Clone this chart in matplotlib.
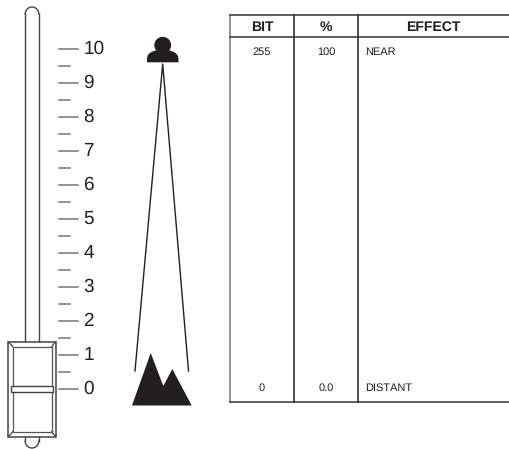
#!/usr/bin/env python3
"""Fader scale, depth sketch and DMX effect table."""
import numpy as np
import matplotlib
matplotlib.use('Agg')
import matplotlib.pyplot as plt
from matplotlib.patches import Circle, Polygon, Rectangle

plt.rcParams['font.family'] = ['Liberation Sans', 'DejaVu Sans']
plt.rcParams['text.hinting'] = 'no_hinting'
plt.rcParams['text.hinting_factor'] = 1

scale_major = [0, 1, 2, 3, 4, 5, 6, 7, 8, 9, 10]
scale_minor = [0.5, 1.5, 2.5, 3.5, 4.5, 5.5, 6.5, 7.5, 8.5, 9.5]
table_headers = ['BIT', '%', 'EFFECT']
row_near = ['255', '100', 'NEAR']
row_distant = ['0', '0.0', 'DISTANT']

INK = '#231f20'
GRAY = '#777777'


def level_y(v):
    return 388.8 - 34.0 * np.asarray(v)


fig = plt.figure(figsize=(5.09, 4.49), dpi=100)
ax = fig.add_axes([0, 0, 1, 1])
ax.set_xlim(0, 509); ax.set_ylim(449, 0); ax.axis('off')

# ---- fader track ----
theta = np.linspace(np.pi, 2 * np.pi, 30)
ax.plot(32 + 6.8 * np.cos(theta), 14 + 7 * np.sin(theta), color='#444444', lw=1.0)
ax.plot([25.2, 25.2], [14, 341], color='#444444', lw=1.0)
ax.plot([38.8, 38.8], [14, 341], color='#444444', lw=1.0)
ax.plot(32 + 6.8 * np.cos(theta), 441 - 7 * np.sin(theta), color='#444444', lw=1.0)
ax.plot([25.2, 25.2], [437, 441], color='#444444', lw=1.0)
ax.plot([38.8, 38.8], [437, 441], color='#444444', lw=1.0)

# ---- fader cap ----
ax.add_patch(Rectangle((8.3, 341.7), 47.4, 95, fc='white', ec='#444444', lw=1.1))
ax.add_patch(Rectangle((12.8, 346.7), 38.8, 85, fc='white', ec='#555555', lw=0.9))
for x0, y0, x1, y1 in [(8.3, 341.7, 12.8, 346.7), (55.7, 341.7, 51.6, 346.7),
                       (8.3, 436.7, 12.8, 431.7), (55.7, 436.7, 51.6, 431.7)]:
    ax.plot([x0, x1], [y0, y1], color='#444444', lw=0.9)
ax.add_patch(Rectangle((10.7, 385.7), 42.6, 6.6, fc='white', ec='#444444', lw=1.0, zorder=3))

# ---- scale ----
for v in scale_major:
    y = level_y(v)
    ax.plot([59.3, 78.3], [y, y], color=GRAY, lw=1.1)
    ax.text(83.5, y + 0.5, str(v), fontsize=13.5, color=INK, ha='left', va='center')
for v in scale_minor:
    y = level_y(v)
    ax.plot([59.3, 70.3], [y, y], color=GRAY, lw=1.1)

# ---- viewer and mountains ----
ax.add_patch(Circle((162.7, 45.2), 8.4, fc=INK, ec='none'))
t = np.linspace(0, np.pi, 40)
ax.add_patch(Polygon(np.c_[162.7 + 15.8 * np.cos(t), 62.3 - 12.5 * np.sin(t) ** 0.55],
                     fc=INK, ec='none'))
ax.plot([135, 162.7, 188.5], [371, 64, 371], color=INK, lw=1.0)
ax.add_patch(Polygon([(132, 405.5), (150.7, 353), (163.3, 386), (172.3, 369), (191.7, 405.5)],
                     fc=INK, ec='none'))

# ---- table ----
ax.plot([230, 230], [15, 401.5], color=GRAY, lw=1.1)
ax.plot([294.3, 294.3], [15, 401.5], color=INK, lw=1.1)
ax.plot([358.5, 358.5], [15, 401.5], color=INK, lw=1.1)
for y in (15, 37, 401.5):
    ax.plot([230, 509], [y, y], color='#333333', lw=1.1)
col_centres = [262, 326, 433]
for x, h in zip(col_centres, table_headers):
    ax.text(x, 27, h, fontsize=10.2, fontweight='bold', color=INK, ha='center', va='center')
for row, y in ((row_near, 52.5), (row_distant, 388.5)):
    ax.text(262, y, row[0], fontsize=7.6, color=INK, ha='center', va='center')
    ax.text(326, y, row[1], fontsize=7.6, color=INK, ha='center', va='center')
    ax.text(365.5, y, row[2], fontsize=7.6, color=INK, ha='left', va='center')

fig.savefig('out.png', dpi=100)
